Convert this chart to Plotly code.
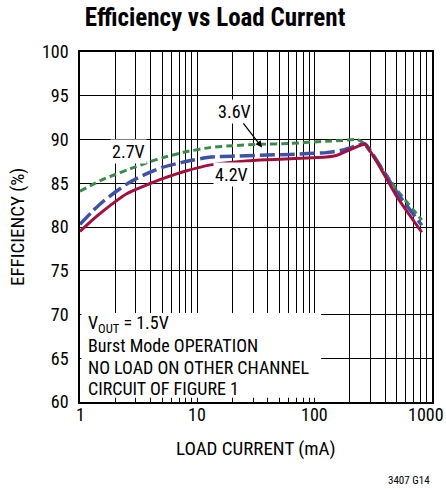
import math
import plotly.graph_objects as go

# ---- data ----
load_42 = [1, 1.3, 1.6, 2, 2.5, 3, 4, 5, 8, 13, 20, 34, 62, 126, 155, 213, 269, 505, 818]
eff_42 = [79.5, 80.9, 81.9, 82.9, 83.8, 84.3, 85.0, 85.5, 86.4, 87.1, 87.4, 87.65, 87.8, 88.0, 88.2, 89.0, 89.45, 83.4, 79.4]

load_36 = [1, 1.3, 1.6, 2, 2.5, 3, 4, 5, 8, 13, 20, 34, 62, 126, 174, 230, 269, 505, 818]
eff_36 = [80.3, 81.9, 83.0, 84.0, 84.9, 85.5, 86.3, 86.8, 87.5, 88.0, 88.1, 88.2, 88.3, 88.5, 88.8, 89.3, 89.5, 83.9, 80.2]

load_27 = [1, 1.3, 1.6, 2, 2.5, 3, 4, 5, 8, 13, 20, 34, 62, 126, 174, 230, 260, 505, 818]
eff_27 = [84.1, 84.9, 85.5, 86.0, 86.5, 86.9, 87.5, 87.9, 88.6, 89.1, 89.3, 89.45, 89.55, 89.8, 89.9, 90.0, 89.6, 84.2, 80.8]

x_grid = [m * d for d in (1, 10, 100) for m in range(1, 10)] + [1000]
x_labels = [1, 10, 100, 1000]
y_ticks = [60, 65, 70, 75, 80, 85, 90, 95, 100]

FONT = "Liberation Sans Narrow, Arial Narrow, Roboto Condensed, sans-serif"
TXT = dict(family=FONT, size=18, color="black")

fig = go.Figure()
fig.add_trace(go.Scatter(x=load_27, y=eff_27, mode="lines",
                         line=dict(color="#3a8a4c", width=3, dash="7px,4px", shape="spline", smoothing=0.4)))
fig.add_trace(go.Scatter(x=load_36, y=eff_36, mode="lines",
                         line=dict(color="#3d52a6", width=3.5, dash="15px,5px", shape="spline", smoothing=0.4)))
fig.add_trace(go.Scatter(x=load_42, y=eff_42, mode="lines",
                         line=dict(color="#a3103e", width=3, shape="spline", smoothing=0.4)))

fig.update_xaxes(type="log", range=[0, 3], tickvals=x_grid, showticklabels=False,
                 showgrid=True, gridcolor="black", gridwidth=1,
                 showline=True, linecolor="black", linewidth=1.5, mirror=True,
                 ticks="", automargin=False, zeroline=False)
fig.update_yaxes(range=[60, 100], tickvals=y_ticks,
                 showgrid=True, gridcolor="black", gridwidth=1,
                 showline=True, linecolor="black", linewidth=1.5, mirror=True,
                 ticks="", ticklabelstandoff=6, tickfont=TXT, automargin=False, zeroline=False)

# x tick labels; the last one runs into the right edge of the picture, as in the reference
for v in x_labels:
    frac = math.log10(v) / 3.0
    last = v == x_labels[-1]
    fig.add_annotation(x=frac, xref="paper", yref="paper", y=0, yshift=-12, text=str(v),
                       showarrow=False, yanchor="middle",
                       xanchor="right" if last else "center", xshift=14 if last else 0, font=TXT)

# axis titles
fig.add_annotation(xref="paper", yref="paper", x=0.5, y=0, yshift=-46, text="LOAD CURRENT (mA)",
                   showarrow=False, yanchor="middle", font=dict(family=FONT, size=19, color="black"))
fig.add_annotation(xref="paper", yref="paper", x=0, xshift=-63, y=0.5, text="EFFICIENCY (%)",
                   textangle=-90, showarrow=False, xanchor="center", yanchor="middle",
                   font=dict(family=FONT, size=19, color="black"))

# white box behind conditions text
fig.add_shape(type="rect", xref="paper", yref="paper", x0=0.004, x1=0.685, y0=0.012, y1=0.254,
              fillcolor="white", line=dict(width=0), layer="above")

cond = ["V<sub>OUT</sub> = 1.5V", "Burst Mode OPERATION", "NO LOAD ON OTHER CHANNEL", "CIRCUIT OF FIGURE 1"]
for i, t in enumerate(cond):
    fig.add_annotation(xref="paper", yref="paper", x=0.016, y=0.222 - i * 0.0615, text=t,
                       showarrow=False, xanchor="left", yanchor="middle", font=TXT)

fig.add_annotation(x=math.log10(2.6), y=88.6, text="2.7V", showarrow=False, bgcolor="white",
                   font=TXT, borderpad=1)
fig.add_annotation(x=math.log10(19.5), y=86.0, text="4.2V", showarrow=False, bgcolor="white",
                   font=TXT, borderpad=1)
fig.add_annotation(x=math.log10(35.6), y=89.1, text="3.6V", showarrow=True, ax=-28, ay=-36,
                   arrowhead=2, arrowsize=1, arrowwidth=1.3, arrowcolor="black", bgcolor="white",
                   font=TXT, borderpad=1)

fig.add_annotation(xref="paper", yref="paper", x=0.9995, y=-0.223, text="3407 G14", showarrow=False,
                   xanchor="right", yanchor="middle", font=dict(family=FONT, size=11, color="black"))

fig.update_layout(
    width=446, height=489,
    margin=dict(l=80, r=14, t=52, b=87),
    paper_bgcolor="white", plot_bgcolor="white",
    showlegend=False,
    title=dict(text="<b>Efficiency vs Load Current</b>", x=0.482, xanchor="center",
               y=0.965, yanchor="middle", yref="container",
               font=dict(family=FONT, size=25, color="black")),
)

fig.write_html("out.html", config={"displayModeBar": False},
               post_script="document.body.style.margin='0';document.body.style.overflow='hidden';")
